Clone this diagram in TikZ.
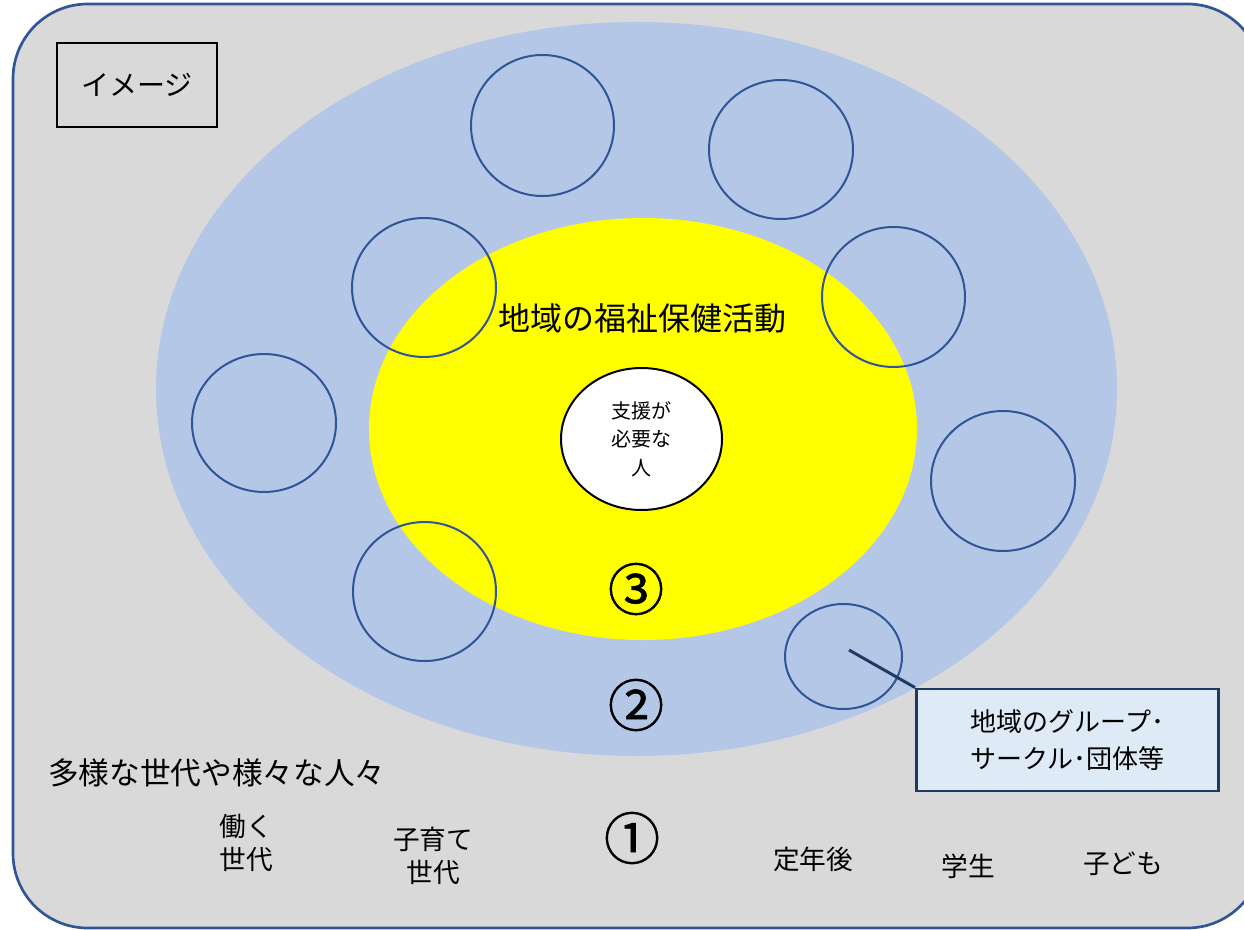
\documentclass[tikz,border=0pt]{standalone}
\usepackage{fontspec}
\setmainfont{Noto Sans CJK JP}
\newfontfamily\numfont[FakeBold=1]{Noto Sans CJK JP}
\usetikzlibrary{shapes.geometric}
\definecolor{bgray}{HTML}{D9D9D9}
\definecolor{frameblue}{HTML}{2F5597}
\definecolor{lightblue}{HTML}{B4C7E7}
\definecolor{callfill}{HTML}{DEEBF7}
\definecolor{navy}{HTML}{1F3864}
\definecolor{pureyellow}{HTML}{FFFF00}
\tikzset{
  grp/.style={ellipse, draw=frameblue, line width=1.5pt, inner sep=0pt},
  lbl/.style={align=center, font=\fontsize{20}{25}\selectfont, inner sep=0pt},
  num/.style={font=\numfont\fontsize{42}{44}\selectfont, inner sep=0pt},
}
\begin{document}
\begin{tikzpicture}[x=0.75pt,y=-0.75pt]
\useasboundingbox (0,0) rectangle (1244,930);
\begin{scope}
\clip (0,0) rectangle (1244,930);
\draw[fill=bgray, draw=frameblue, line width=2pt, rounded corners=56pt] (13,4) rectangle (1262,928);
\end{scope}
% outer blue ellipse
\node[ellipse, fill=lightblue, minimum width=961*0.75pt, minimum height=734*0.75pt, inner sep=0pt] (outer) at (636.5,389) {};
% yellow ellipse
\node[ellipse, fill=pureyellow, minimum width=548*0.75pt, minimum height=422*0.75pt, inner sep=0pt] (inner) at (643,429) {};
% center circle
\node[ellipse, draw=black, fill=white, line width=1.5pt, minimum width=161*0.75pt, minimum height=142*0.75pt, inner sep=0pt, align=center, font=\fontsize{15}{21.5}\selectfont] (center) at (641.5,439) {支援が\\必要な\\人};
% group circles
\node[grp, minimum width=143*0.75pt, minimum height=141*0.75pt] (g1) at (542.5,125.5) {};
\node[grp, minimum width=144*0.75pt, minimum height=139*0.75pt] (g2) at (781,149.5) {};
\node[grp, minimum width=144*0.75pt, minimum height=139*0.75pt] (g3) at (424,287.5) {};
\node[grp, minimum width=143*0.75pt, minimum height=140*0.75pt] (g4) at (893.5,297) {};
\node[grp, minimum width=144*0.75pt, minimum height=138*0.75pt] (g5) at (264,423) {};
\node[grp, minimum width=144*0.75pt, minimum height=140*0.75pt] (g6) at (1003,481) {};
\node[grp, minimum width=143*0.75pt, minimum height=139*0.75pt] (g7) at (424.5,591.5) {};
\node[grp, minimum width=117*0.75pt, minimum height=105*0.75pt] (g8) at (843.5,656.5) {};
% texts
\node[font=\fontsize{24}{28}\selectfont, inner sep=0pt] (title) at (642,318) {地域の福祉保健活動};
\node[num] (n3) at (636,589) {③};
\node[num] (n2) at (636,705) {②};
\node[num] (n1) at (632,838) {①};
% image box
\node[draw=black, line width=1.5pt, minimum width=160*0.75pt, minimum height=84*0.75pt, inner sep=0pt, font=\fontsize{21}{24}\selectfont] (img) at (137,85) {イメージ};
% callout
\node[draw=navy, fill=callfill, line width=2.2pt, minimum width=302*0.75pt, minimum height=102*0.75pt, inner sep=0pt, align=center, font=\fontsize{19.5}{28}\selectfont] (call) at (1067.5,740) {地域のグループ･\\サークル･団体等};
\coordinate (gc) at (849,650);
\draw[navy, line width=2.2pt] (gc) -- (call.north west);
% people
\node[font=\fontsize{23}{26}\selectfont, inner sep=0pt, anchor=west] (people) at (48,773) {多様な世代や様々な人々};
\node[lbl] (work) at (246,843) {働く\\世代};
\node[lbl] (child) at (433,856) {子育て\\世代};
\node[lbl] (retire) at (813,859) {定年後};
\node[lbl] (student) at (968,866) {学生};
\node[lbl] (kids) at (1123,864) {子ども};
\end{tikzpicture}
\end{document}
